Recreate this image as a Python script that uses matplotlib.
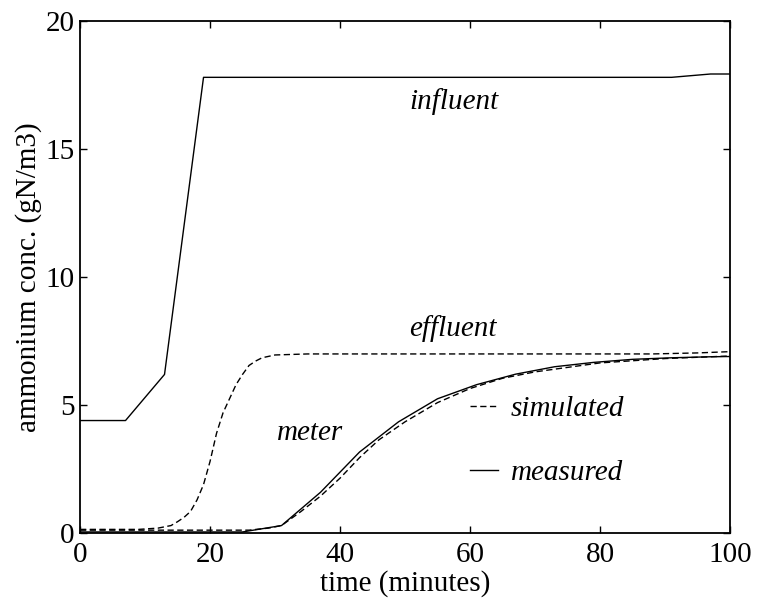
import matplotlib
matplotlib.use("Agg")
import matplotlib.pyplot as plt
from matplotlib.lines import Line2D

# influent (measured)
t_infl = [0, 7, 13, 19, 91, 97, 100]
c_infl = [4.4, 4.4, 6.2, 17.8, 17.8, 17.93, 17.93]

# effluent (simulated)
t_effl = [0, 9, 12, 14, 15, 16, 17, 18, 19, 20, 21, 22, 23, 24, 25, 26, 27, 28, 30, 35, 50, 88, 95, 100]
c_effl = [0.15, 0.15, 0.2, 0.3, 0.45, 0.62, 0.85, 1.3, 1.9, 2.8, 3.9, 4.7, 5.25, 5.8, 6.2, 6.55,
          6.72, 6.85, 6.96, 7.0, 7.0, 7.0, 7.04, 7.09]

# meter, measured
t_meas = [0, 25, 31, 37, 43, 49, 55, 61, 67, 73, 79, 85, 91, 97, 100]
c_meas = [0.05, 0.05, 0.3, 1.6, 3.17, 4.35, 5.25, 5.8, 6.21, 6.5, 6.67, 6.79, 6.85, 6.89, 6.9]

# meter, simulated
t_sim = [0, 26, 29, 31, 34, 37, 40, 43, 46, 50, 55, 60, 65, 70, 80, 90, 100]
c_sim = [0.12, 0.12, 0.2, 0.3, 0.85, 1.45, 2.15, 2.95, 3.65, 4.35, 5.1, 5.65, 6.05, 6.3, 6.65, 6.82, 6.92]

plt.rcParams['font.family'] = ['Liberation Serif', 'DejaVu Serif']
fs = 21
dash = (4.5, 2.5)

fig = plt.figure(figsize=(7.57, 6.03), dpi=100)
ax = fig.add_axes([0.1057, 0.1157, 0.8587, 0.8495])

ax.plot(t_infl, c_infl, color='black', lw=1.0)
ax.plot(t_effl, c_effl, color='black', lw=1.0, dashes=dash)
ax.plot(t_meas, c_meas, color='black', lw=1.0)
ax.plot(t_sim, c_sim, color='black', lw=1.0, dashes=dash)

ax.text(57.5, 16.85, 'influent', style='italic', fontsize=fs, ha='center', va='center')
ax.text(57.4, 8.0, 'effluent', style='italic', fontsize=fs, ha='center', va='center')
ax.text(35.4, 3.9, 'meter', style='italic', fontsize=fs, ha='center', va='center')

handles = [Line2D([], [], color='black', lw=1.0, dashes=dash),
           Line2D([], [], color='black', lw=1.0)]
ax.legend(handles, ['simulated', 'measured'], loc='upper left', bbox_to_anchor=(0.6, 0.268),
          frameon=False, borderpad=0, borderaxespad=0, handlelength=0.95, handletextpad=0.45,
          labelspacing=1.28, prop={'style': 'italic', 'size': fs})

ax.set_xlim(0, 100)
ax.set_ylim(0, 20)
ax.set_xticks([0, 20, 40, 60, 80, 100])
ax.set_yticks([0, 5, 10, 15, 20])
ax.tick_params(direction='in', length=5, width=1, labelsize=fs, top=True, right=True, pad=4)
ax.tick_params(axis='x', pad=6)
for s in ax.spines.values():
    s.set_linewidth(1.3)

ax.set_xlabel('time (minutes)', fontsize=fs, labelpad=2)
ax.set_ylabel('ammonium conc. (gN/m3)', fontsize=fs, labelpad=2)

fig.savefig('out.png', dpi=100)
